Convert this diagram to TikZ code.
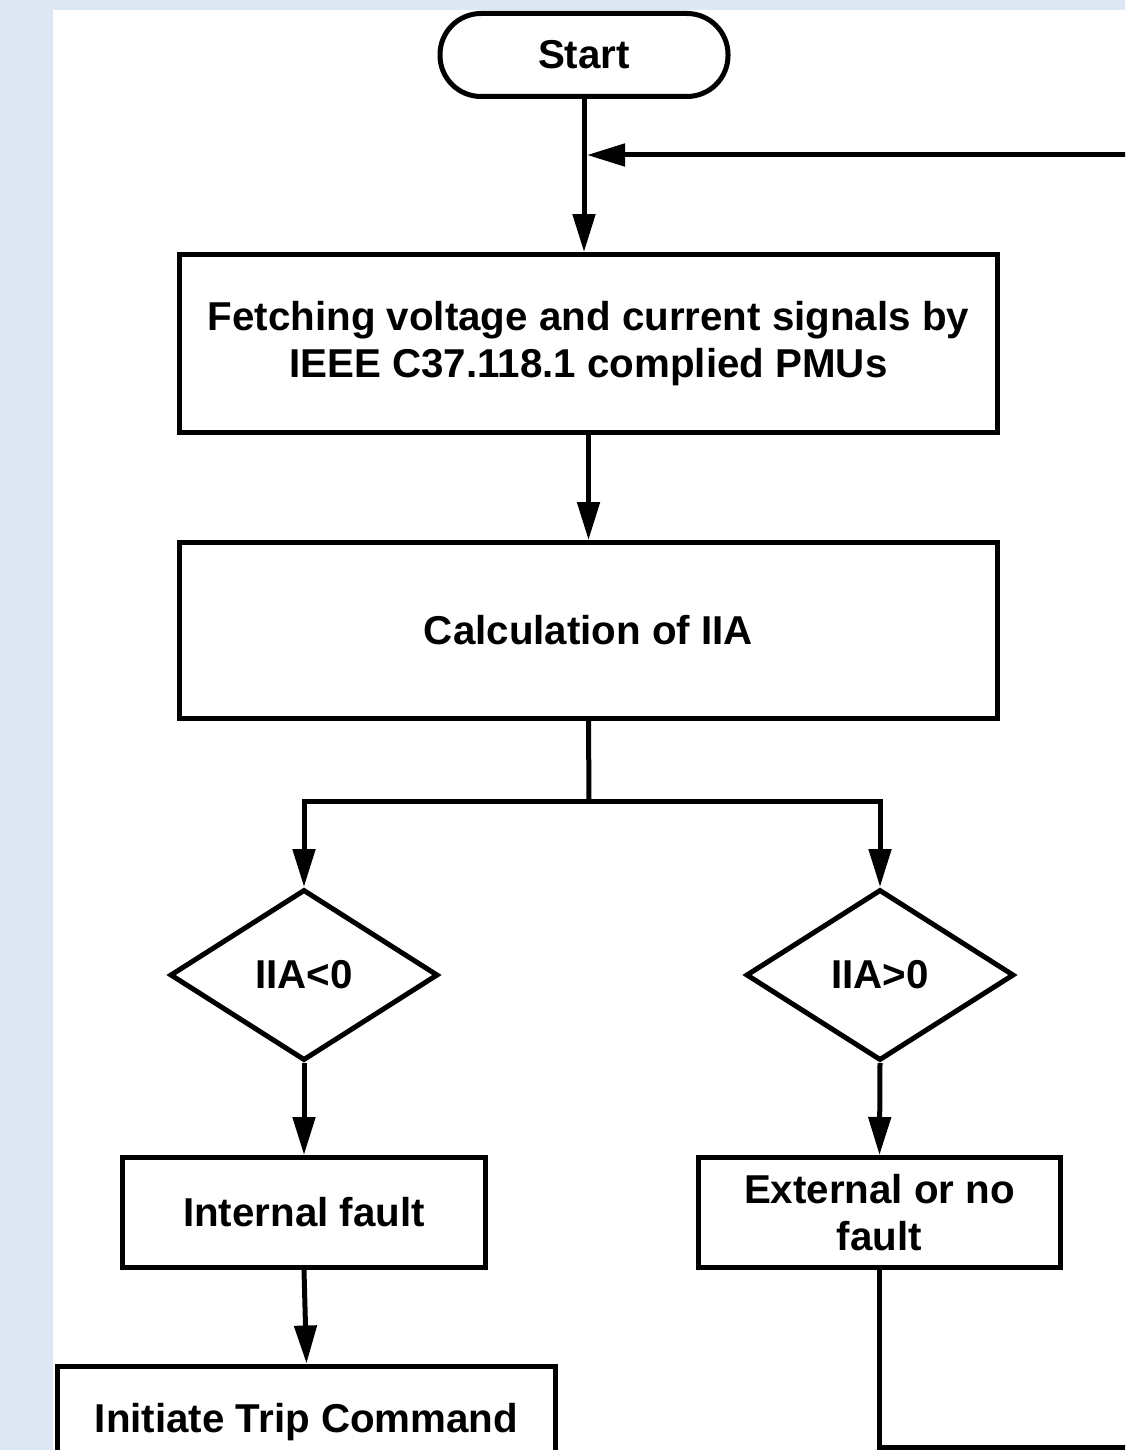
\documentclass[tikz,border=0pt]{standalone}
\usepackage{fontspec}
\setmainfont{Liberation Sans}
\usetikzlibrary{arrows.meta,shapes.geometric,positioning}
\definecolor{pagebg}{RGB}{221,232,244}

\begin{document}
\begin{tikzpicture}[x=1pt,y=-1pt,
	box/.style = {draw, line width=5pt, align=center, inner sep=0pt, font=\bfseries\fontsize{40.3}{47.5}\selectfont},
	term/.style = {box, rounded corners=41pt, minimum width=288pt, minimum height=83pt},
	dec/.style = {box, diamond, minimum width=268pt, minimum height=171pt},
	arr/.style = {line width=5pt, -{Triangle[length=38pt,width=22pt]}},
	ln/.style = {line width=5pt}]
	\useasboundingbox (0,0) rectangle (1125,1450);
	\clip (0,0) rectangle (1125,1450);
	\fill[pagebg] (0,0) rectangle (1125,1450);
	\fill[white] (53,10) rectangle (1125,1450);
	% nodes
	\node[term] (start) at (584,55) {Start};
	\node[box, minimum width=818pt, minimum height=178pt] (fetch) at (588.5,343.5) {Fetching voltage and current signals by\\IEEE C37.118.1 complied PMUs};
	\node[box, minimum width=818pt, minimum height=176pt] (calc) at (588.5,630.5) {Calculation of IIA};
	\node[dec] (neg) at (304,975) {IIA<0};
	\node[dec] (pos) at (880,975) {IIA>0};
	\node[box, minimum width=363pt, minimum height=110pt] (internal) at (304,1212.5) {Internal fault};
	\node[box, minimum width=362pt, minimum height=110pt] (external) at (879.5,1212.5) {External or no\\fault};
	\node[box, minimum width=498pt, minimum height=112pt] (trip) at (306.5,1422) {Initiate Trip Command};
	\coordinate (split) at (589,801);
	\coordinate (join) at (587,155);
	\coordinate (loopbot) at (1150,1447);
	\coordinate (looptop) at (1150,155);
	% connectors
	\draw[arr] (start.south) -- (start.south |- fetch.north);
	\draw[arr] (fetch.south) -- (calc.north);
	\draw[ln] (calc.south) -- (split);
	\draw[arr] (split) -| (neg.north);
	\draw[arr] (split) -| (pos.north);
	\draw[arr] (neg.south) -- (internal.north);
	\draw[arr] (pos.south) -- (external.north);
	\draw[arr] (internal.south) -- (trip.north);
	\draw[arr] (external.south) -- (external.south |- loopbot) -- (loopbot) -- (looptop) -- (join);
\end{tikzpicture}
\end{document}
